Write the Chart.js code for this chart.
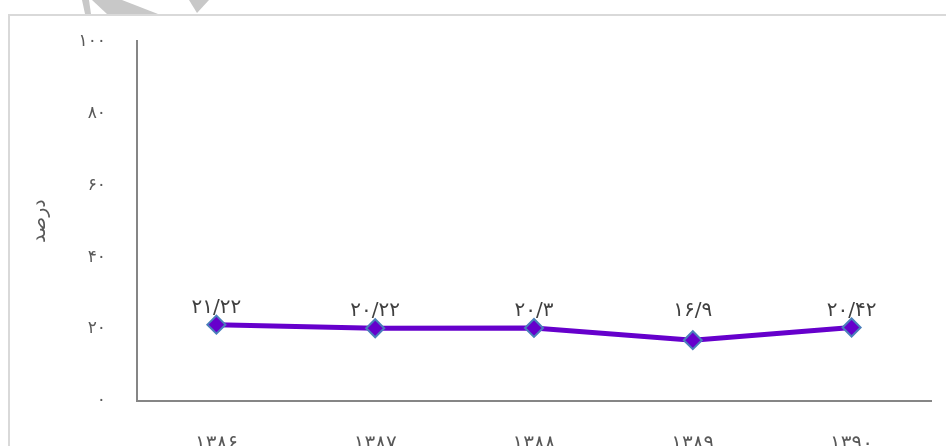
<!DOCTYPE html>
<html>
<head>
<meta charset="utf-8">
<script src="https://cdn.jsdelivr.net/npm/chart.js@4.4.0/dist/chart.umd.min.js"></script>
<style>
  html, body { margin: 0; padding: 0; background: #ffffff; }
  #wrap { width: 946px; height: 446px; position: relative; }
</style>
</head>
<body>
<div id="wrap"><canvas id="c" width="946" height="446"></canvas></div>
<script>
// ---- data ----
const categories = ['۱۳۸۶', '۱۳۸۷', '۱۳۸۸', '۱۳۸۹', '۱۳۹۰'];
const values = [21.22, 20.22, 20.3, 16.9, 20.42];
const valueLabels = ['۲۱/۲۲', '۲۰/۲۲', '۲۰/۳', '۱۶/۹', '۲۰/۴۲'];
const yTickValues = [0, 20, 40, 60, 80, 100];
const yTickLabels = ['۰', '۲۰', '۴۰', '۶۰', '۸۰', '۱۰۰'];
const yAxisTitle = 'درصد';

const FONT = "'DejaVu Sans', 'Liberation Sans', sans-serif";

const frameAndWatermark = {
  id: 'frameAndWatermark',
  beforeDraw(chart) {
    const ctx = chart.ctx;
    ctx.save();
    ctx.fillStyle = '#ffffff';
    ctx.fillRect(0, 0, chart.width, chart.height);
    // decorative watermark pieces at the top edge
    ctx.fillStyle = '#c8c8c8';
    ctx.beginPath();
    ctx.moveTo(82, 0); ctx.lineTo(89, 0); ctx.lineTo(91, 14); ctx.lineTo(85, 14); ctx.closePath(); ctx.fill();
    ctx.beginPath();
    ctx.moveTo(92, 0); ctx.lineTo(122, 0); ctx.lineTo(158, 14); ctx.lineTo(107, 14); ctx.closePath(); ctx.fill();
    ctx.beginPath();
    ctx.moveTo(189, 0); ctx.lineTo(209, 0); ctx.lineTo(197, 13); ctx.closePath(); ctx.fill();
    // light frame
    ctx.strokeStyle = '#d9d9d9';
    ctx.lineWidth = 2;
    ctx.beginPath();
    ctx.moveTo(9, 446); ctx.lineTo(9, 15); ctx.lineTo(946, 15);
    ctx.stroke();
    ctx.restore();
  }
};

const pointLabels = {
  id: 'pointLabels',
  afterDatasetsDraw(chart) {
    const ctx = chart.ctx;
    const meta = chart.getDatasetMeta(0);
    const yScale = chart.scales.y;
    const floor = yScale.getPixelForValue(20.4);
    ctx.save();
    ctx.font = "20px " + FONT;
    ctx.fillStyle = '#404040';
    ctx.textAlign = 'center';
    ctx.textBaseline = 'alphabetic';
    meta.data.forEach((el, i) => {
      ctx.fillText(valueLabels[i], el.x, Math.min(el.y, floor) - 12);
    });
    ctx.restore();
  }
};

new Chart(document.getElementById('c'), {
  type: 'line',
  data: {
    labels: categories,
    datasets: [{
      data: values,
      borderColor: '#6600cc',
      borderWidth: 5,
      backgroundColor: '#6600cc',
      pointStyle: 'rectRot',
      pointRadius: 9,
      pointHoverRadius: 9,
      pointBackgroundColor: '#6600cc',
      pointBorderColor: '#4a7ebb',
      pointBorderWidth: 2,
      tension: 0,
      fill: false
    }]
  },
  options: {
    responsive: false,
    animation: false,
    events: [],
    layout: { padding: { top: 37, right: 15, left: 0, bottom: 0 } },
    plugins: { legend: { display: false }, tooltip: { enabled: false } },
    scales: {
      x: {
        type: 'category',
        offset: true,
        grid: { display: false, drawTicks: false },
        border: { display: true, color: '#868686', width: 2 },
        ticks: { color: '#595959', font: { family: FONT, size: 20 }, padding: 31, maxRotation: 0 },
        afterFit(s) { s.height = 45; }
      },
      y: {
        min: 0, max: 100,
        grid: { display: false, drawTicks: false },
        border: { display: true, color: '#868686', width: 2 },
        afterBuildTicks(s) { s.ticks = yTickValues.map(v => ({ value: v })); },
        ticks: {
          color: '#595959',
          font: { family: FONT, size: 17 },
          padding: 31,
          callback(v) { const i = yTickValues.indexOf(v); return i >= 0 ? yTickLabels[i] : ''; }
        },
        title: {
          display: true,
          text: yAxisTitle,
          color: '#595959',
          font: { family: FONT, size: 19 },
          padding: { top: 29, bottom: 0 }
        },
        afterFit(s) { s.width = 137; }
      }
    }
  },
  plugins: [frameAndWatermark, pointLabels]
});
</script>
</body>
</html>
